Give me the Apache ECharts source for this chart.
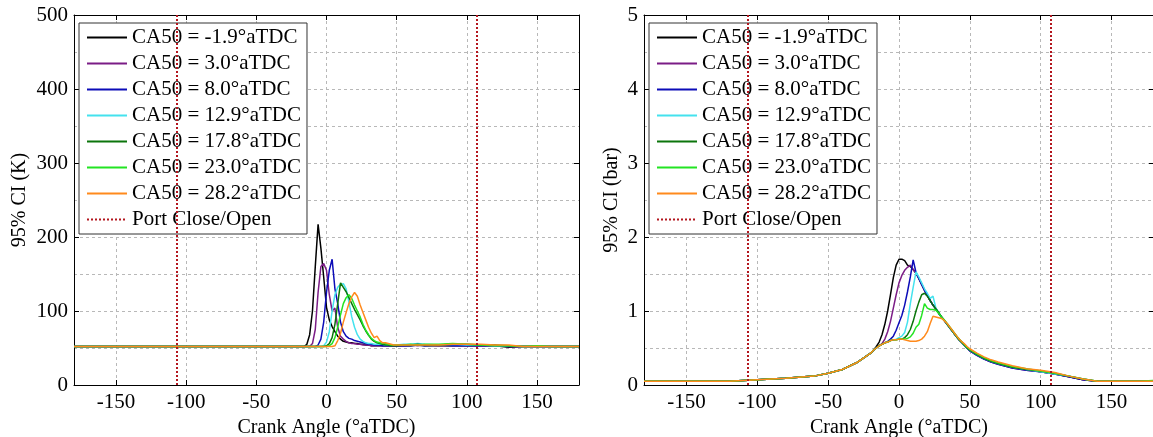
<!DOCTYPE html>
<html>
<head>
<meta charset="utf-8">
<script src="https://cdn.jsdelivr.net/npm/echarts@6/dist/echarts.min.js"></script>
<style>
  html, body { margin: 0; padding: 0; background: #fff; }
  #chart { width: 1153px; height: 437px; }
</style>
</head>
<body>
<div id="chart"></div>
<script>
// Crank angle samples (°aTDC) shared by every curve
const angles = [-180, -150, -120, -100, -80, -60, -50, -40, -30, -20,
  -18, -16, -14, -12, -10, -8, -6, -4, -2, 0, 2, 4, 6, 8, 10, 12, 14, 16, 18, 20,
  22, 24, 26, 28, 30, 32, 34, 36, 38, 40, 42, 44, 46, 48,
  50, 55, 60, 65, 70, 80, 90, 100, 110, 120, 130, 140, 150, 160, 170, 180];

const seriesNames = ['CA50 = -1.9°aTDC', 'CA50 = 3.0°aTDC', 'CA50 = 8.0°aTDC', 'CA50 = 12.9°aTDC',
  'CA50 = 17.8°aTDC', 'CA50 = 23.0°aTDC', 'CA50 = 28.2°aTDC'];
const portName = 'Port Close/Open';
const portAngles = [-107, 107];

// 95% confidence interval of gas temperature (K)
const tempCI_m19 = [52, 52, 52, 52, 52, 52, 52, 52, 52, 52,
  52, 52, 55, 68, 100, 160, 217, 185, 146, 105, 88, 79, 72, 66, 62, 59, 58, 57, 57, 56,
  56, 55, 55, 54, 54, 53, 53, 53, 53, 53, 53, 53, 53, 53,
  53, 53, 53, 54, 53, 53, 53, 53, 53, 53, 51, 52, 52, 52, 52, 52];
const tempCI_30 = [52, 52, 52, 52, 52, 52, 52, 52, 52, 52,
  52, 52, 52, 52, 56, 75, 125, 160, 164, 155, 122, 100, 104, 78, 66, 62, 59, 57, 56, 56,
  55, 55, 54, 54, 54, 53, 53, 53, 53, 53, 53, 53, 53, 53,
  53, 53, 54, 53, 54, 53, 53, 53, 53, 53, 52, 52, 52, 52, 52, 52];
const tempCI_80 = [52, 52, 52, 52, 52, 52, 52, 52, 52, 52,
  52, 52, 52, 52, 52, 52, 54, 62, 85, 125, 155, 170, 130, 110, 85, 72, 66, 63, 62, 60,
  59, 58, 57, 56, 55, 55, 54, 54, 54, 53, 53, 53, 53, 53,
  53, 53, 53, 54, 53, 54, 53, 53, 53, 53, 52, 52, 52, 52, 52, 52];
const tempCI_129 = [52, 52, 52, 52, 52, 52, 52, 52, 52, 52,
  52, 52, 52, 52, 52, 52, 52, 52, 53, 58, 72, 100, 122, 132, 136, 137, 130, 112, 92, 78,
  68, 62, 59, 57, 56, 56, 55, 55, 55, 55, 54, 54, 54, 54,
  54, 55, 55, 56, 55, 54, 55, 54, 54, 53, 53, 52, 52, 52, 52, 52];
const tempCI_178 = [52, 52, 52, 52, 52, 52, 52, 52, 52, 52,
  52, 52, 52, 52, 52, 52, 52, 52, 52, 53, 56, 64, 82, 110, 138, 132, 126, 118, 110, 102,
  95, 88, 80, 73, 67, 62, 59, 57, 56, 55, 54, 54, 53, 53,
  53, 54, 54, 55, 54, 54, 55, 55, 54, 54, 53, 52, 52, 52, 52, 52];
const tempCI_230 = [52, 52, 52, 52, 52, 52, 52, 52, 52, 52,
  52, 52, 52, 52, 52, 52, 52, 52, 52, 52, 53, 56, 64, 78, 95, 110, 118, 122, 117, 108,
  100, 92, 82, 74, 68, 63, 60, 58, 57, 56, 56, 55, 54, 54,
  54, 54, 55, 54, 55, 55, 56, 55, 54, 53, 53, 52, 53, 52, 52, 52];
const tempCI_282 = [52, 52, 52, 52, 52, 52, 52, 52, 52, 52,
  52, 52, 52, 52, 52, 52, 52, 52, 52, 52, 52, 52, 53, 60, 70, 85, 98, 110, 119, 125,
  120, 108, 98, 88, 78, 70, 64, 66, 60, 57, 57, 56, 55, 54,
  54, 54, 54, 54, 54, 54, 55, 55, 55, 54, 54, 52, 52, 52, 52, 52];

// 95% confidence interval of cylinder pressure (bar)
const presCI_m19 = [0.05, 0.05, 0.05, 0.07, 0.09, 0.12, 0.16, 0.21, 0.30, 0.43,
  0.47, 0.52, 0.58, 0.68, 0.82, 1.00, 1.22, 1.45, 1.62, 1.70, 1.70, 1.68, 1.62, 1.60, 1.56, 1.51, 1.44, 1.36, 1.28, 1.21,
  1.14, 1.08, 1.03, 0.97, 0.92, 0.87, 0.82, 0.77, 0.72, 0.67, 0.62, 0.58, 0.54, 0.50,
  0.47, 0.41, 0.36, 0.32, 0.29, 0.24, 0.21, 0.18, 0.15, 0.11, 0.07, 0.05, 0.05, 0.05, 0.05, 0.05];
const presCI_30 = [0.05, 0.05, 0.05, 0.07, 0.09, 0.12, 0.16, 0.21, 0.30, 0.43,
  0.47, 0.50, 0.53, 0.56, 0.62, 0.72, 0.86, 1.04, 1.22, 1.38, 1.48, 1.55, 1.59, 1.62, 1.56, 1.51, 1.44, 1.36, 1.28, 1.21,
  1.14, 1.08, 1.03, 0.97, 0.92, 0.87, 0.82, 0.77, 0.72, 0.67, 0.62, 0.58, 0.54, 0.50,
  0.46, 0.40, 0.35, 0.31, 0.28, 0.23, 0.20, 0.18, 0.15, 0.11, 0.07, 0.05, 0.05, 0.05, 0.05, 0.05];
const presCI_80 = [0.05, 0.05, 0.05, 0.07, 0.09, 0.12, 0.16, 0.21, 0.30, 0.43,
  0.47, 0.50, 0.53, 0.55, 0.57, 0.59, 0.62, 0.66, 0.74, 0.84, 0.94, 1.08, 1.26, 1.46, 1.69, 1.52, 1.44, 1.36, 1.28, 1.21,
  1.14, 1.08, 1.03, 0.97, 0.92, 0.87, 0.82, 0.77, 0.72, 0.67, 0.62, 0.58, 0.54, 0.50,
  0.46, 0.40, 0.35, 0.31, 0.28, 0.23, 0.20, 0.18, 0.15, 0.11, 0.07, 0.05, 0.05, 0.05, 0.05, 0.05];
const presCI_129 = [0.05, 0.05, 0.05, 0.07, 0.09, 0.12, 0.16, 0.21, 0.30, 0.43,
  0.47, 0.50, 0.53, 0.55, 0.57, 0.58, 0.60, 0.61, 0.62, 0.64, 0.66, 0.71, 0.85, 1.10, 1.32, 1.53, 1.46, 1.38, 1.30, 1.24,
  1.17, 1.20, 1.04, 0.98, 0.92, 0.87, 0.82, 0.77, 0.72, 0.67, 0.62, 0.58, 0.54, 0.50,
  0.47, 0.41, 0.36, 0.32, 0.29, 0.24, 0.21, 0.18, 0.15, 0.12, 0.08, 0.05, 0.05, 0.05, 0.05, 0.05];
const presCI_178 = [0.05, 0.05, 0.05, 0.07, 0.09, 0.12, 0.16, 0.21, 0.30, 0.43,
  0.47, 0.50, 0.53, 0.55, 0.57, 0.58, 0.60, 0.61, 0.61, 0.62, 0.62, 0.64, 0.68, 0.75, 0.86, 1.00, 1.12, 1.22, 1.24, 1.20,
  1.14, 1.08, 1.03, 0.98, 0.92, 0.87, 0.82, 0.77, 0.72, 0.67, 0.62, 0.58, 0.54, 0.50,
  0.47, 0.41, 0.36, 0.32, 0.29, 0.24, 0.21, 0.19, 0.16, 0.12, 0.08, 0.05, 0.05, 0.05, 0.05, 0.05];
const presCI_230 = [0.05, 0.05, 0.05, 0.07, 0.09, 0.12, 0.16, 0.21, 0.30, 0.43,
  0.47, 0.50, 0.53, 0.55, 0.57, 0.58, 0.60, 0.61, 0.61, 0.62, 0.62, 0.62, 0.63, 0.65, 0.70, 0.78, 0.82, 0.94, 1.10, 1.04,
  1.02, 1.02, 1.01, 0.97, 0.92, 0.88, 0.83, 0.78, 0.73, 0.68, 0.63, 0.59, 0.55, 0.51,
  0.48, 0.42, 0.37, 0.33, 0.30, 0.25, 0.22, 0.19, 0.16, 0.12, 0.08, 0.05, 0.05, 0.05, 0.05, 0.06];
const presCI_282 = [0.05, 0.05, 0.05, 0.07, 0.09, 0.12, 0.16, 0.21, 0.30, 0.43,
  0.47, 0.50, 0.53, 0.55, 0.57, 0.58, 0.60, 0.61, 0.61, 0.62, 0.62, 0.61, 0.60, 0.59, 0.59, 0.59, 0.60, 0.62, 0.66, 0.72,
  0.83, 0.93, 0.92, 0.91, 0.90, 0.87, 0.83, 0.78, 0.73, 0.68, 0.63, 0.59, 0.56, 0.52,
  0.49, 0.43, 0.38, 0.34, 0.31, 0.26, 0.22, 0.20, 0.17, 0.12, 0.08, 0.05, 0.05, 0.05, 0.05, 0.05];

const tempSets = [tempCI_m19, tempCI_30, tempCI_80, tempCI_129, tempCI_178, tempCI_230, tempCI_282];
const presSets = [presCI_m19, presCI_30, presCI_80, presCI_129, presCI_178, presCI_230, presCI_282];

const lineColors = ['#000000', '#7b1c86', '#0c0cb8', '#44e2ee', '#0b750b', '#22e422', '#ff8a1c'];
const portColor = '#b3161e';
const gridColor = '#b8b8b8';
const FONT = 'Liberation Serif';

function curve(name, vals, color, idx) {
  return {
    name, type: 'line', xAxisIndex: idx * 2, yAxisIndex: idx * 2,
    data: angles.map((a, i) => [a, vals[i]]),
    symbol: 'none', showSymbol: false, animation: false, z: 3,
    lineStyle: { color, width: 1.5 }, itemStyle: { color }
  };
}

function portLines(idx) {
  return {
    name: portName, type: 'line', xAxisIndex: idx * 2, yAxisIndex: idx * 2,
    data: [], symbol: 'none', animation: false, z: 2,
    lineStyle: { color: portColor, width: 2, type: 'dotted' }, itemStyle: { color: portColor },
    markLine: {
      silent: true, symbol: 'none', animation: false, label: { show: false },
      lineStyle: { color: portColor, width: 2, type: 'dotted' },
      data: portAngles.map(a => ({ xAxis: a }))
    }
  };
}

const dashed = { color: gridColor, width: 1, type: [3, 3] };
const tickStyle = { show: true, inside: true, length: 5, lineStyle: { color: '#000', width: 1 } };
const lineStyleAxis = { show: true, onZero: false, lineStyle: { color: '#000', width: 1 } };
const labelStyle = { fontFamily: FONT, fontSize: 21, color: '#000' };

function xAxes(g) {
  return [
    {
      gridIndex: g, type: 'value', min: -180, max: 180, splitNumber: 7, position: 'bottom',
      axisLine: lineStyleAxis, axisTick: tickStyle,
      axisLabel: Object.assign({ margin: 7, showMinLabel: false, showMaxLabel: false }, labelStyle),
      splitLine: { show: true, lineStyle: dashed },
      name: 'Crank Angle (°aTDC)', nameLocation: 'middle', nameGap: 26,
      nameTextStyle: { fontFamily: FONT, fontSize: 20, color: '#000' }
    },
    {
      gridIndex: g, type: 'value', min: -180, max: 180, splitNumber: 7, position: 'top',
      axisLine: lineStyleAxis, axisTick: tickStyle, axisLabel: { show: false }, splitLine: { show: false }
    }
  ];
}

function yAxes(g, max, name, gap) {
  const step = max / 5;
  return [
    {
      gridIndex: g, type: 'value', min: 0, max, interval: step, position: 'left',
      axisLine: lineStyleAxis, axisTick: tickStyle,
      axisLabel: Object.assign({ margin: 6 }, labelStyle),
      splitLine: { show: true, lineStyle: dashed },
      minorTick: { show: false, splitNumber: 2 },
      minorSplitLine: { show: true, lineStyle: dashed },
      name, nameLocation: 'middle', nameGap: gap, nameRotate: 90,
      nameTextStyle: { fontFamily: FONT, fontSize: 20, color: '#000' }
    },
    {
      gridIndex: g, type: 'value', min: 0, max, interval: step, position: 'right',
      axisLine: lineStyleAxis, axisTick: tickStyle, axisLabel: { show: false }, splitLine: { show: false }
    }
  ];
}

function legendFor(left) {
  return {
    orient: 'vertical', left, top: 23, padding: [4, 6, 4, 7],
    itemWidth: 40, itemHeight: 14, itemGap: 5,
    borderColor: '#333', borderWidth: 1, backgroundColor: '#fff',
    selectedMode: false,
    itemStyle: { opacity: 0 },
    textStyle: { fontFamily: FONT, fontSize: 21, color: '#000', lineHeight: 20 },
    data: seriesNames.concat([portName])
  };
}

const series = [];
[tempSets, presSets].forEach((sets, idx) => {
  sets.forEach((vals, i) => series.push(curve(seriesNames[i], vals, lineColors[i], idx)));
  series.push(portLines(idx));
});

const chart = echarts.init(document.getElementById('chart'), null, { renderer: 'canvas' });
chart.setOption({
  animation: false,
  backgroundColor: '#fff',
  grid: [
    { left: 74, top: 15, width: 505, height: 370, outerBoundsMode: 'none', containLabel: false },
    { left: 644, top: 15, width: 510, height: 370, outerBoundsMode: 'none', containLabel: false }
  ],
  xAxis: xAxes(0).concat(xAxes(1)),
  yAxis: yAxes(0, 500, '95% CI (K)', 44).concat(yAxes(1, 5, '95% CI (bar)', 22)),
  legend: [legendFor(79), legendFor(649)],
  series
});
</script>
</body>
</html>
